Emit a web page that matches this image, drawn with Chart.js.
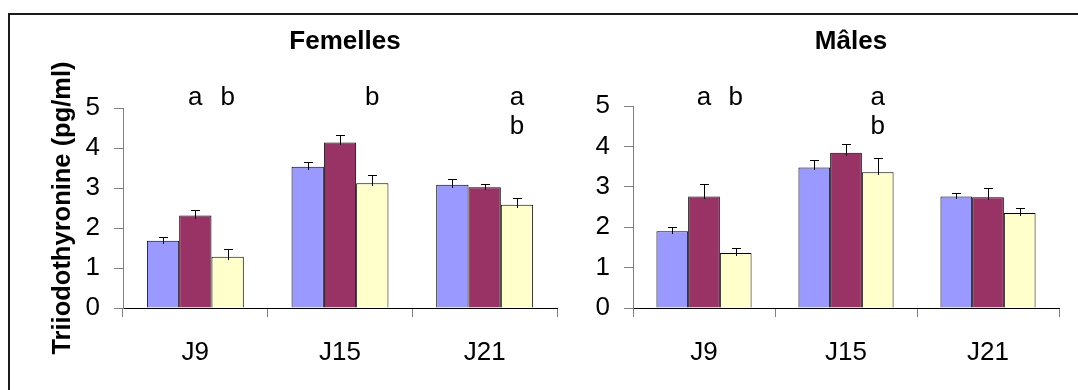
<!DOCTYPE html>
<html>
<head>
<meta charset="utf-8">
<script src="https://cdn.jsdelivr.net/npm/chart.js@4.4.1/dist/chart.umd.min.js"></script>
<style>
  html, body { margin:0; padding:0; background:#fff; width:1078px; height:390px; overflow:hidden; }
  #frame { position:absolute; left:8px; top:13px; width:2000px; height:1000px; border:2px solid #1a1a1a; }
  .panel { position:absolute; left:0; top:0; width:1078px; height:390px; }
</style>
</head>
<body>
<div id="frame"></div>
<div class="panel"><canvas id="fem"></canvas></div>
<div class="panel"><canvas id="male"></canvas></div>
<script>
// ---- data ----
const categories = ["J9", "J15", "J21"];
const seriesNames = ["Groupe 1", "Groupe 2", "Groupe 3"];
const seriesColors = ["#9999FF", "#993366", "#FFFFCC"];

const femValues1 = [1.68, 3.53, 3.08];
const femValues2 = [2.31, 4.14, 3.02];
const femValues3 = [1.28, 3.12, 2.58];
const femErr1 = [0.10, 0.13, 0.15];
const femErr2 = [0.14, 0.18, 0.09];
const femErr3 = [0.19, 0.20, 0.16];

const maleValues1 = [1.90, 3.48, 2.76];
const maleValues2 = [2.76, 3.84, 2.74];
const maleValues3 = [1.36, 3.36, 2.35];
const maleErr1 = [0.10, 0.18, 0.09];
const maleErr2 = [0.30, 0.21, 0.23];
const maleErr3 = [0.12, 0.36, 0.12];

// significance letters: [category][series]
const femLetters = [["", "a", "b"], ["", "", "b"], ["", "", "a\nb"]];
const maleLetters = [["", "a", "b"], ["", "", "a\nb"], ["", "", ""]];

const yTicks = [0, 1, 2, 3, 4, 5];
const panelTitles = ["Femelles", "Mâles"];
const yAxisTitle = "Triiodothyronine (pg/ml)";

const FONT = "'Liberation Sans', Arial, Helvetica, sans-serif";

const extrasPlugin = {
  id: 'extras',
  afterDatasetsDraw(chart) {
    const ctx = chart.ctx;
    const o = chart.options.plugins.extras;
    const ys = chart.scales.y;
    ctx.save();
    // error bars
    ctx.strokeStyle = '#000';
    ctx.lineWidth = 1;
    chart.data.datasets.forEach((ds, di) => {
      const meta = chart.getDatasetMeta(di);
      meta.data.forEach((bar, i) => {
        const v = ds.data[i];
        const e = o.errors[di][i];
        const x = Math.round(bar.x) + 0.5;
        const yTop = Math.round(ys.getPixelForValue(v + e)) + 0.5;
        const yBase = Math.round(ys.getPixelForValue(v)) + 3;
        ctx.beginPath();
        ctx.moveTo(x, yBase);
        ctx.lineTo(x, yTop);
        ctx.moveTo(x - 4.5, yTop);
        ctx.lineTo(x + 4.5, yTop);
        ctx.stroke();
      });
    });
    // letters
    ctx.fillStyle = '#000';
    ctx.font = "26px " + FONT;
    ctx.textAlign = 'center';
    ctx.textBaseline = 'alphabetic';
    const base = chart.chartArea.bottom - 203;
    o.letters.forEach((row, ci) => {
      row.forEach((txt, di) => {
        if (!txt) return;
        const bar = chart.getDatasetMeta(di).data[ci];
        txt.split("\n").forEach((line, li) => {
          ctx.fillText(line, bar.x, base + li * 29);
        });
      });
    });
    // panel title
    ctx.font = "bold 26px " + FONT;
    const ca = chart.chartArea;
    ctx.fillText(o.title, (ca.left + ca.right) / 2 + 5, 49);
    ctx.restore();
  }
};

function makeChart(id, vals, errs, letters, title, area, showYTitle) {
  const datasets = vals.map((v, i) => ({
    label: seriesNames[i],
    data: v,
    backgroundColor: seriesColors[i],
    borderColor: '#000',
    borderWidth: 1,
    categoryPercentage: 0.67,
    barPercentage: 1.0
  }));
  return new Chart(document.getElementById(id), {
    type: 'bar',
    data: { labels: categories, datasets },
    plugins: [extrasPlugin],
    options: {
      responsive: true,
      maintainAspectRatio: false,
      animation: false,
      events: [],
      layout: { padding: { left: 0, right: 1078 - area.right, top: area.top, bottom: 0 } },
      plugins: {
        legend: { display: false },
        tooltip: { enabled: false },
        title: { display: false },
        extras: { errors: errs, letters: letters, title: title }
      },
      scales: {
        x: {
          offset: true,
          border: { display: true, color: '#000', width: 1 },
          grid: { display: true, offset: true, drawOnChartArea: false, drawTicks: true, tickLength: 9, color: '#808080' },
          ticks: { color: '#000', font: { family: FONT, size: 26 }, padding: 20, maxRotation: 0 },
          afterFit(scale) { scale.height = 390 - area.bottom; }
        },
        y: {
          min: 0, max: 5,
          border: { display: true, color: '#808080', width: 1 },
          grid: { display: true, drawOnChartArea: false, drawTicks: true, tickLength: 9, color: '#808080' },
          ticks: { stepSize: 1, color: '#000', font: { family: FONT, size: 26 }, padding: 14,
                   callback: (v) => yTicks.includes(v) ? String(v) : '' },
          title: { display: showYTitle, text: yAxisTitle, color: '#000',
                   font: { family: FONT, size: 25.5, weight: 'bold' }, padding: { top: 48, bottom: 0 } },
          afterFit(scale) { scale.width = area.left; }
        }
      }
    }
  });
}

makeChart('fem', [femValues1, femValues2, femValues3], [femErr1, femErr2, femErr3], femLetters,
  panelTitles[0], { left: 123, right: 557, top: 108, bottom: 308 }, true);
makeChart('male', [maleValues1, maleValues2, maleValues3], [maleErr1, maleErr2, maleErr3], maleLetters,
  panelTitles[1], { left: 633, right: 1059, top: 106, bottom: 308 }, false);
</script>
</body>
</html>
